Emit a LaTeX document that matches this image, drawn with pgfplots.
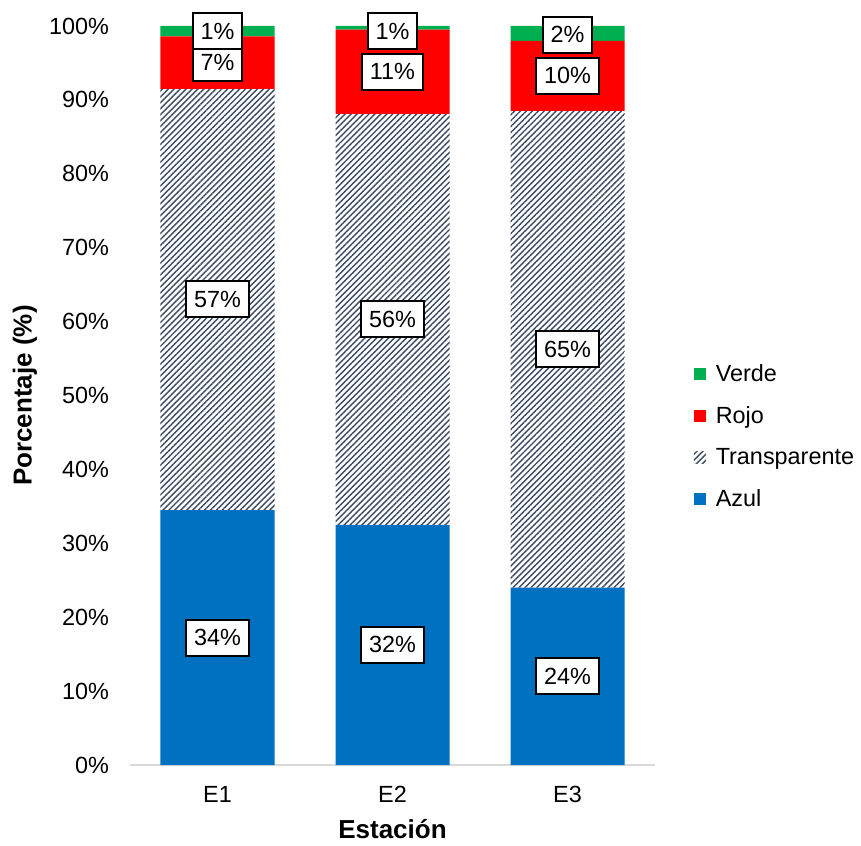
\documentclass[border=0pt]{standalone}
\usepackage{pgfplots}
\pgfplotsset{compat=1.18}
\usepackage{pgfplotstable}
\usepackage{fontspec}
\setmainfont{Liberation Sans}
\usetikzlibrary{patterns.meta}
\definecolor{azul}{HTML}{0070C0}
\definecolor{rojo}{HTML}{FF0000}
\definecolor{verde}{HTML}{00B050}
\definecolor{pat}{HTML}{3B4A63}
\definecolor{axgray}{HTML}{D9D9D9}

\pgfplotstableread{
x azul trans rojo verde
0 34.5 57.0 7.1 1.4
1 32.5 55.6 11.4 0.5
2 24.0 64.5 9.5 2.0
}\datatable

\pgfplotstableread{
x y label
0 17.25 34\%
0 63.0 57\%
0 95.05 7\%
0 99.3 1\%
1 16.25 32\%
1 60.3 56\%
1 93.8 11\%
1 99.3 1\%
2 12.0 24\%
2 56.25 65\%
2 93.25 10\%
2 98.8 2\%
}\labeltable

\tikzset{transpat/.style={pattern={Lines[angle=45,distance=2.1pt,line width=0.7pt]},pattern color=pat}}

\begin{document}
\begin{tikzpicture}[font=\fontsize{11.7}{14}\selectfont]
\begin{axis}[
  name=main,
  scale only axis,
  width=262.5pt, height=369.5pt,
  ybar stacked,
  bar width=57pt,
  xmin=-0.5, xmax=2.5,
  ymin=0, ymax=100,
  xtick={0,1,2},
  xticklabels={E1,E2,E3},
  ytick={0,10,...,100},
  yticklabels={0\%,10\%,20\%,30\%,40\%,50\%,60\%,70\%,80\%,90\%,100\%},
  axis x line*=bottom,
  axis y line*=left,
  x axis line style={draw=axgray, line width=1pt, -},
  y axis line style={draw=none},
  xtick style={draw=none},
  ytick style={draw=none},
  yticklabel style={xshift=-7pt},
  xticklabel style={yshift=-7pt},
  ylabel={\bfseries\fontsize{13}{15}\selectfont Porcentaje (\%)},
  xlabel={\bfseries\fontsize{13}{15}\selectfont Estación},
  ylabel style={at={(axis description cs:-0.2,0.5)}, anchor=center},
  xlabel style={at={(axis description cs:0.5,-0.0866)}, anchor=center},
  legend style={draw=none, fill=none, at={(1.07,0.444)}, anchor=west,
    legend cell align=left, row sep=7pt, inner sep=1pt, outer sep=0pt,
    font=\fontsize{11.7}{14}\selectfont},
  legend image code/.code={\fill[#1] (0pt,-3pt) rectangle (6pt,3pt); \path (9pt,0pt);},
  reverse legend,
]
\addplot[fill=azul, draw=none] table[x=x,y=azul]{\datatable};
\addlegendentry{Azul}
\addplot[transpat, draw=none] table[x=x,y=trans]{\datatable};
\addlegendentry{Transparente}
\addplot[fill=rojo, draw=none] table[x=x,y=rojo]{\datatable};
\addlegendentry{Rojo}
\addplot[fill=verde, draw=none] table[x=x,y=verde]{\datatable};
\addlegendentry{Verde}
\end{axis}
\begin{axis}[
  scale only axis,
  width=262.5pt, height=369.5pt,
  xmin=-0.5, xmax=2.5,
  ymin=0, ymax=100,
  hide axis,
  clip=false,
]
\addplot[draw=none, mark=none, nodes near coords, point meta=explicit symbolic,
  nodes near coords align={center},
  every node near coord/.append style={anchor=center, draw=black, line width=1pt, fill=white,
    inner xsep=4pt, inner ysep=0pt, minimum height=18pt,
    font=\fontsize{11.7}{14}\selectfont}]
  table[x=x,y=y,meta=label]{\labeltable};
\path (rel axis cs:0,0) ++(-65pt,-38pt);
\path (rel axis cs:1,1) ++(103pt,13pt);
\end{axis}
\end{tikzpicture}
\end{document}
